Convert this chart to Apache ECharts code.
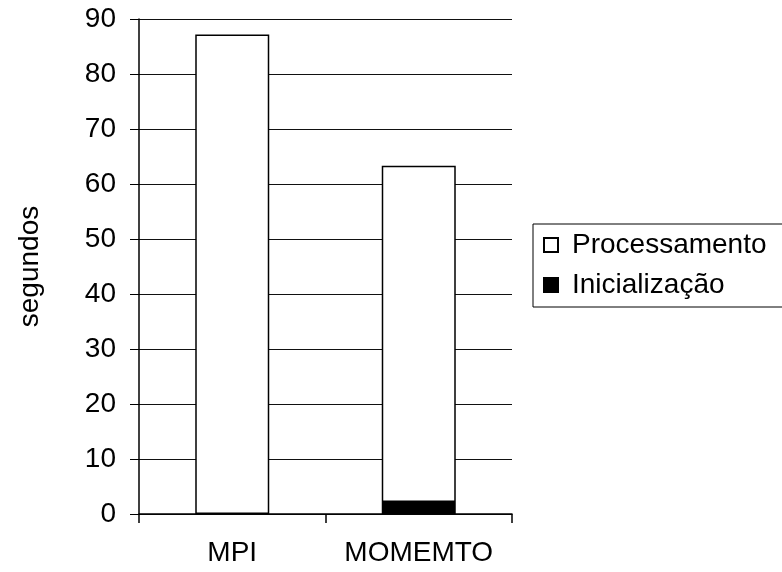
<!DOCTYPE html>
<html>
<head>
<meta charset="utf-8">
<script src="https://cdn.jsdelivr.net/npm/echarts@6/dist/echarts.min.js"></script>
<style>
  html, body { margin: 0; padding: 0; background: #ffffff; }
  #chart { width: 782px; height: 572px; }
</style>
</head>
<body>
<div id="chart"></div>
<script>
// Tempo de execução (segundos) por implementação
const categories = ['MPI', 'MOMEMTO'];
const inicializacao = [0, 2.2];
const processamento = [87.2, 61.1];
const yTicks = { min: 0, max: 90, interval: 10 };

const FONT = '"Liberation Sans", Arial, Helvetica, sans-serif';

const chart = echarts.init(document.getElementById('chart'), null, { renderer: 'canvas' });

chart.setOption({
  backgroundColor: '#ffffff',
  animation: false,
  grid: { left: 139, right: 270, top: 19, bottom: 58, containLabel: false },
  legend: {
    orient: 'vertical',
    left: 533,
    top: 224,
    padding: [7, 40, 8, 10],
    borderColor: '#000000',
    borderWidth: 1,
    backgroundColor: '#ffffff',
    icon: 'rect',
    itemWidth: 14,
    itemHeight: 14,
    itemGap: 12,
    textStyle: { fontFamily: FONT, fontSize: 28, color: '#000000', padding: [0, 0, 0, 9], lineHeight: 28 },
    data: ['Processamento', 'Inicialização']
  },
  xAxis: {
    type: 'category',
    data: categories,
    boundaryGap: true,
    axisLine: { show: true, lineStyle: { color: '#000000', width: 1.5 } },
    axisTick: { show: true, interval: 0, alignWithLabel: false, length: 9, lineStyle: { color: '#000000', width: 1.5 } },
    axisLabel: { interval: 0, hideOverlap: false, fontFamily: FONT, fontSize: 28, color: '#000000', margin: 25 }
  },
  yAxis: {
    type: 'value',
    min: yTicks.min,
    max: yTicks.max,
    interval: yTicks.interval,
    name: 'segundos',
    nameLocation: 'middle',
    nameGap: 95,
    nameRotate: 90,
    nameTextStyle: { fontFamily: FONT, fontSize: 28, color: '#000000' },
    axisLine: { show: true, lineStyle: { color: '#000000', width: 1.5 } },
    axisTick: { show: true, length: 9, lineStyle: { color: '#000000', width: 1 } },
    axisLabel: { fontFamily: FONT, fontSize: 28, color: '#000000', margin: 23 },
    splitLine: { show: true, lineStyle: { color: '#111111', width: 1 } }
  },
  series: [
    {
      name: 'Inicialização',
      type: 'bar',
      stack: 'tempo',
      barWidth: 74,
      // a zero-height segment is left out so it draws no border
      data: inicializacao.map(v => (v === 0 ? '-' : v)),
      itemStyle: { color: '#000000', borderColor: '#000000', borderWidth: 1.5 }
    },
    {
      name: 'Processamento',
      type: 'bar',
      stack: 'tempo',
      barWidth: 74,
      data: processamento,
      itemStyle: { color: '#ffffff', borderColor: '#000000', borderWidth: 1.5 }
    }
  ]
});
</script>
</body>
</html>
